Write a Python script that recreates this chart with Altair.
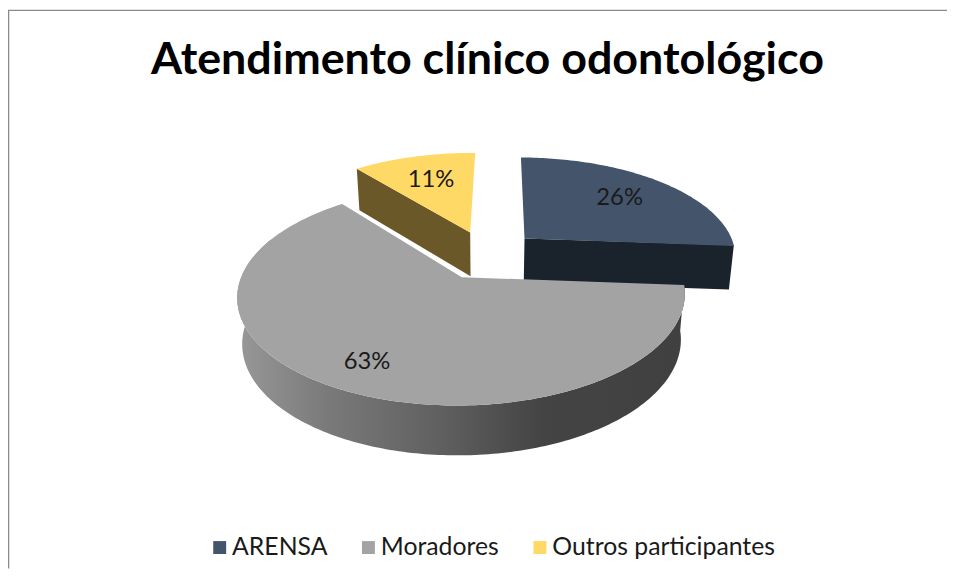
import numpy as np
import pandas as pd
import altair as alt

# --- chart values
names = ["ARENSA", "Moradores", "Outros participantes"]
shares = [26, 63, 11]
top_colors = ["#44546a", "#a3a3a3", "#ffd966"]
cut_colors = ["#1a222c", "#404040", "#6b5828"]
title_text = "Atendimento clínico odontológico"

# --- view geometry (page pixels minus 8 px margin)
W, H = 947, 563
FIRST_ANGLE = 0.5
EXPLODE = 53.0
RADIUS = 214.5
TILT = 0.466
PERSP = 0.163
X0, Y0 = 491.0 - 8, 254.4 - 8
DEPTH = 45.0
BOTTOM_SCALE = 0.98
LABEL_R = [0.69, 0.79, 0.66]
FONT = "Lato"


def project(u, v, bottom=False):
    w = 1 + PERSP * v / RADIUS
    x = u / w
    y = -TILT * v / w
    if bottom:
        x = x * BOTTOM_SCALE
        y = y + DEPTH / np.sqrt(w)
    return X0 + x, Y0 + y


def slice_plane(i):
    start = FIRST_ANGLE + sum(shares[:i]) * 3.6
    end = start + shares[i] * 3.6
    mid = np.radians((start + end) / 2)
    return start, end, EXPLODE * np.sin(mid), EXPLODE * np.cos(mid), mid


def rim(i, a, bottom=False):
    _, _, u0, v0, _ = slice_plane(i)
    a = np.radians(a)
    return project(u0 + RADIUS * np.sin(a), v0 + RADIUS * np.cos(a), bottom)


def apex(i, bottom=False):
    _, _, u0, v0, _ = slice_plane(i)
    return project(u0, v0, bottom)


def frame(points, name=""):
    pts = np.array(points)
    return pd.DataFrame({"x": pts[:, 0], "y": pts[:, 1], "i": range(len(pts)), "name": name})


def top_face(i):
    s, e, *_ = slice_plane(i)
    angles = np.arange(s, e + 0.5, 1.0)
    return frame([apex(i)] + [rim(i, a) for a in angles] + [apex(i)], names[i])


def cut_face(i, a):
    return frame([apex(i), rim(i, a), rim(i, a, True), apex(i, True), apex(i)])


def outer_wall(i, a0, a1):
    angles = np.arange(a0, a1 + 0.5, 1.0)
    return frame([rim(i, a) for a in angles] + [rim(i, a, True) for a in angles[::-1]])


xs = alt.X("x:Q", scale=alt.Scale(domain=[0, W], range=[0, W]), axis=None)
ys = alt.Y("y:Q", scale=alt.Scale(domain=[0, H], range=[0, H]), axis=None)


def poly(df, fill):
    return alt.Chart(df).mark_line(fill=fill, strokeWidth=0).encode(
        x=xs, y=ys, order=alt.Order("i:Q")
    )


start_out = slice_plane(2)[0]
start_gray = slice_plane(1)[0]
end_arensa = slice_plane(0)[1]

wall_gradient = alt.LinearGradient(
    gradient="linear",
    x1=0, x2=1, y1=0, y2=0,
    stops=[
        alt.GradientStop(offset=0.0, color="#989898"),
        alt.GradientStop(offset=0.2, color="#7a7a7a"),
        alt.GradientStop(offset=0.47, color="#5e5e5e"),
        alt.GradientStop(offset=0.68, color="#444444"),
        alt.GradientStop(offset=1.0, color="#404040"),
    ],
)

color_scale = alt.Scale(domain=names, range=top_colors)

legend_df = pd.DataFrame({"name": names, "x": [0, 0, 0], "y": [0, 0, 0]})
legend_layer = alt.Chart(legend_df).mark_square(size=0, opacity=0).encode(
    x=xs, y=ys,
    color=alt.Color(
        "name:N",
        scale=color_scale,
        sort=names,
        legend=alt.Legend(
            title=None,
            orient="none",
            legendX=201,
            legendY=529,
            direction="horizontal",
            symbolType="square",
            symbolSize=170,
            symbolOpacity=1,
            symbolStrokeWidth=0,
            labelFont=FONT,
            labelFontSize=25,
            labelColor="#1a1a1a",
            labelOffset=0,
            columnPadding=28,
            labelLimit=300,
        ),
    ),
)

label_rows = []
for i in range(3):
    _, _, u0, v0, mid = slice_plane(i)
    r = RADIUS * LABEL_R[i]
    lx, ly = project(u0 + r * np.sin(mid), v0 + r * np.cos(mid))
    label_rows.append({"x": lx, "y": ly, "t": f"{shares[i]}%"})
labels = alt.Chart(pd.DataFrame(label_rows)).mark_text(
    font=FONT, fontSize=24, color="#1a1a1a", align="center", baseline="middle"
).encode(x=xs, y=ys, text="t:N")

frame_top = alt.Chart(pd.DataFrame({"a": [0]})).mark_rule(color="#8a8a8a", strokeWidth=1.5).encode(
    x=alt.value(0), x2=alt.value(W), y=alt.value(0)
)
frame_left = alt.Chart(pd.DataFrame({"a": [0]})).mark_rule(color="#8a8a8a", strokeWidth=1.5).encode(
    x=alt.value(0.5), y=alt.value(0), y2=alt.value(H)
)

chart = alt.layer(
    frame_top,
    frame_left,
    poly(cut_face(2, start_out), cut_colors[2]),
    poly(top_face(2), top_colors[2]),
    poly(cut_face(0, end_arensa), cut_colors[0]),
    poly(top_face(0), top_colors[0]),
    poly(outer_wall(1, start_gray, 292), wall_gradient),
    poly(top_face(1), top_colors[1]),
    labels,
    legend_layer,
).properties(
    width=W,
    height=H,
    padding=0,
    autosize=alt.AutoSizeParams(type="none"),
    title=alt.TitleParams(
        text=title_text,
        font=FONT,
        fontSize=45.2,
        fontWeight="bold",
        color="#000000",
        anchor="middle",
        dx=10,
        dy=78,
    ),
).configure_view(stroke=None)

chart.save("out.html", embed_options={"renderer": "svg", "actions": False})
